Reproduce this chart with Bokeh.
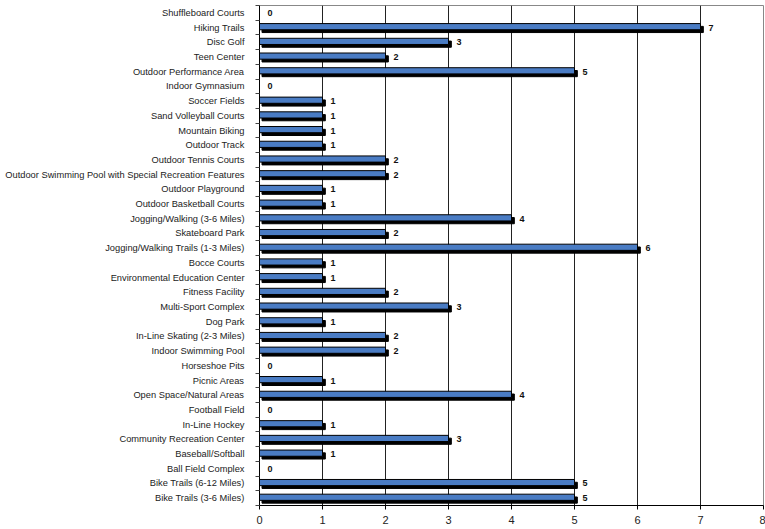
from bokeh.plotting import figure
from bokeh.models import ColumnDataSource, FixedTicker, Range1d
from bokeh.transform import dodge
from bokeh.embed import file_html
from bokeh.resources import INLINE
from bokeh.core.properties import value

categories = [
    "Shuffleboard Courts", "Hiking Trails", "Disc Golf", "Teen Center",
    "Outdoor Performance Area", "Indoor Gymnasium", "Soccer Fields",
    "Sand Volleyball Courts", "Mountain Biking", "Outdoor Track",
    "Outdoor Tennis Courts", "Outdoor Swimming Pool with Special Recreation Features",
    "Outdoor Playground", "Outdoor Basketball Courts", "Jogging/Walking (3-6 Miles)",
    "Skateboard Park", "Jogging/Walking Trails (1-3 Miles)", "Bocce Courts",
    "Environmental Education Center", "Fitness Facility", "Multi-Sport Complex",
    "Dog Park", "In-Line Skating (2-3 Miles)", "Indoor Swimming Pool",
    "Horseshoe Pits", "Picnic Areas", "Open Space/Natural Areas", "Football Field",
    "In-Line Hockey", "Community Recreation Center", "Baseball/Softball",
    "Ball Field Complex", "Bike Trails (6-12 Miles)", "Bike Trails (3-6 Miles)",
]
counts = [0, 7, 3, 2, 5, 0, 1, 1, 1, 1, 2, 2, 1, 1, 4, 2, 6, 1, 1, 2, 3, 1, 2, 2,
          0, 1, 4, 0, 1, 3, 1, 0, 5, 5]
x_ticks = [0, 1, 2, 3, 4, 5, 6, 7, 8]

n = len(categories)
ypos = [n - i for i in range(n)]

bars = ColumnDataSource(dict(
    y=[y for y, v in zip(ypos, counts) if v > 0],
    val=[v for v in counts if v > 0],
))
labels = ColumnDataSource(dict(y=ypos, val=counts, txt=[str(v) for v in counts]))

p = figure(width=765, height=529, output_backend="svg", toolbar_location=None,
           x_range=Range1d(0, 8), y_range=Range1d(0.5, n + 0.5),
           min_border_left=259, min_border_right=2, min_border_top=5, min_border_bottom=24)

FONT = "Liberation Sans"

# shadow
p.hbar(y=dodge("y", -0.13), left=0.04, right=dodge("val", 0.045), height=0.42,
       source=bars, fill_color="black", line_color="black")
# main bar
p.hbar(y=dodge("y", 0.06), left=0, right="val", height=0.42, source=bars,
       fill_color="#4a7cc4", line_color="black", line_width=1)

p.text(x="val", y="y", text="txt", source=labels, x_offset=8,
       text_font=value(FONT), text_font_size="9px", text_font_style="bold",
       text_baseline="middle", text_align="left", text_color="#111111")

# x axis
p.xaxis.ticker = FixedTicker(ticks=x_ticks)
p.xaxis.major_label_text_font = FONT
p.xaxis.major_label_text_font_size = "11px"
p.xaxis.major_label_text_color = "#222222"
p.xaxis.axis_line_color = "black"
p.xaxis.major_tick_line_color = "black"
p.xaxis.major_tick_out = 4
p.xaxis.major_tick_in = 0
p.xaxis.major_label_standoff = 6
p.xaxis.minor_tick_line_color = None

# y axis: labels at category centers, tick marks between categories
p.yaxis.ticker = FixedTicker(ticks=ypos, minor_ticks=[y + 0.5 for y in range(n + 1)])
p.yaxis.major_label_overrides = {y: c for y, c in zip(ypos, categories)}
p.yaxis.major_label_text_font = FONT
p.yaxis.major_label_text_font_size = "9.3px"
p.yaxis.major_label_text_color = "#222222"
p.yaxis.major_tick_line_color = None
p.yaxis.major_label_standoff = 9
p.yaxis.minor_tick_line_color = "#444444"
p.yaxis.minor_tick_out = 4
p.yaxis.minor_tick_in = 0
p.yaxis.axis_line_color = "black"

p.xgrid.ticker = FixedTicker(ticks=x_ticks)
p.xgrid.grid_line_color = "#222222"
p.xgrid.grid_line_width = 1
p.ygrid.grid_line_color = None
p.outline_line_color = "#888888"
p.background_fill_color = "white"

open("out.html", "w").write(file_html(p, INLINE))
